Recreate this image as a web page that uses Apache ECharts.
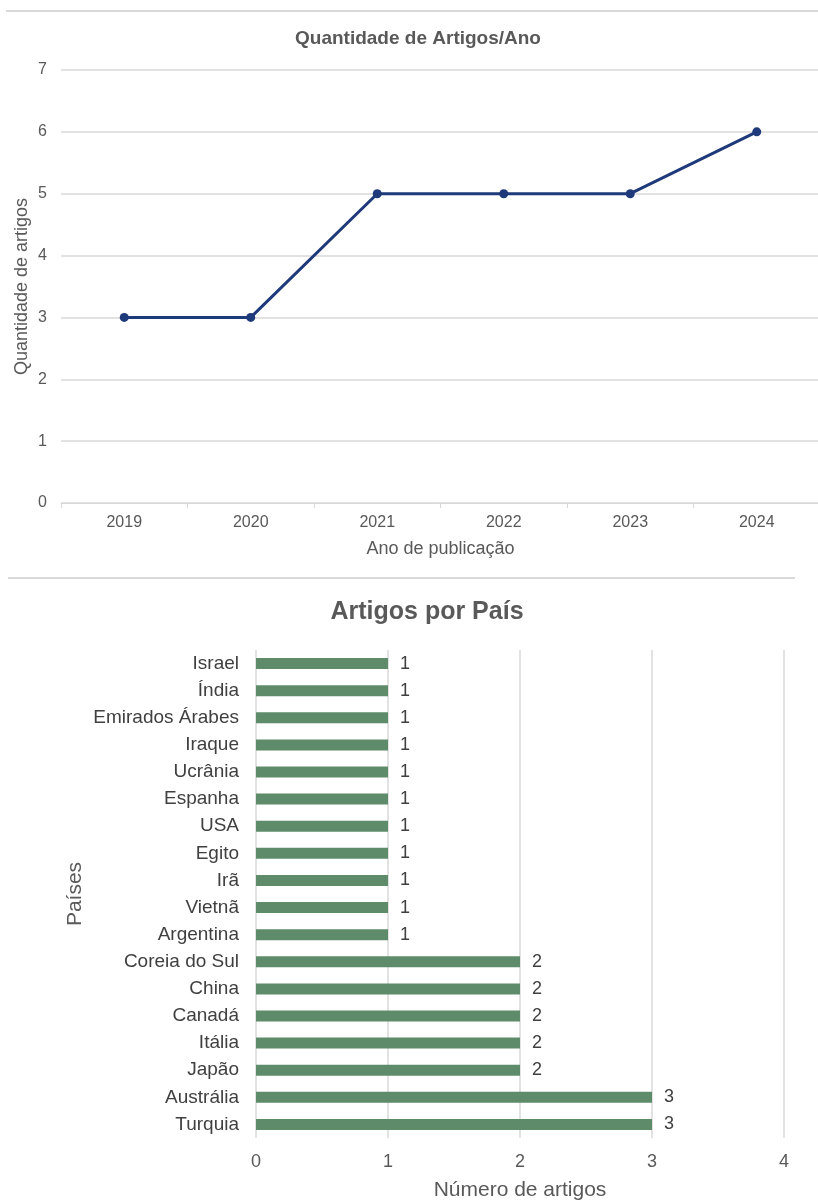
<!DOCTYPE html>
<html><head><meta charset="utf-8">
<script src="https://cdn.jsdelivr.net/npm/echarts@6/dist/echarts.min.js"></script>
<style>html,body{margin:0;padding:0;background:#fff}#c{width:818px;height:1200px}</style>
</head><body><div id="c"></div>
<script>
const years = ['2019','2020','2021','2022','2023','2024'];
const articlesPerYear = [3,3,5,5,5,6];
const countries = ['Israel','Índia','Emirados Árabes','Iraque','Ucrânia','Espanha','USA','Egito','Irã','Vietnã','Argentina','Coreia do Sul','China','Canadá','Itália','Japão','Austrália','Turquia'];
const articlesPerCountry = [1,1,1,1,1,1,1,1,1,1,1,2,2,2,2,2,3,3];

const F = 'Liberation Sans, Arial, sans-serif';
const chart = echarts.init(document.getElementById('c'));
chart.setOption({
  animation:false,
  textStyle:{fontFamily:F},
  title:[
    {text:'Quantidade de Artigos/Ano',left:413,textAlign:'center',top:24,textStyle:{fontFamily:F,fontSize:19,fontWeight:'bold',color:'#595959'}},
    {text:'Artigos por País',left:422,textAlign:'center',top:595,textStyle:{fontFamily:F,fontSize:25,fontWeight:'bold',color:'#595959'}}
  ],
  graphic:[
    {type:'line',shape:{x1:6,y1:11,x2:818,y2:11},style:{stroke:'#d9d9d9',lineWidth:2}},
    {type:'line',shape:{x1:8,y1:578,x2:795,y2:578},style:{stroke:'#d9d9d9',lineWidth:2}}
  ],
  grid:[
    {left:61,top:70,width:759,height:433,outerBoundsMode:'none',containLabel:false},
    {left:256,top:650,width:528,height:488,outerBoundsMode:'none',containLabel:false}
  ],
  xAxis:[
    {type:'category',gridIndex:0,data:years,boundaryGap:true,
     axisLine:{lineStyle:{color:'#d9d9d9'}},axisTick:{show:true,length:5,lineStyle:{color:'#d9d9d9'}},
     axisLabel:{color:'#595959',fontSize:16,margin:12},
     name:'Ano de publicação',nameLocation:'middle',nameGap:37,nameMoveOverlap:false,nameTextStyle:{color:'#595959',fontSize:18}},
    {type:'value',gridIndex:1,min:0,max:4,interval:1,
     axisLine:{show:false},axisTick:{show:false},
     splitLine:{lineStyle:{color:'#d9d9d9',width:1.5}},
     axisLabel:{color:'#595959',fontSize:18,margin:15},
     name:'Número de artigos',nameLocation:'middle',nameGap:42,nameMoveOverlap:false,nameTextStyle:{color:'#595959',fontSize:21}}
  ],
  yAxis:[
    {type:'value',gridIndex:0,min:0,max:7,interval:1,
     axisLine:{show:false},axisTick:{show:false},
     splitLine:{lineStyle:{color:'#d9d9d9',width:1.5}},
     axisLabel:{color:'#595959',fontSize:16,margin:14},
     name:'Quantidade de artigos',nameLocation:'middle',nameGap:30,nameMoveOverlap:false,nameTextStyle:{color:'#595959',fontSize:18}},
    {type:'category',gridIndex:1,data:countries,inverse:true,
     axisLine:{show:false},axisTick:{show:false},
     axisLabel:{color:'#404040',fontSize:19,margin:17},
     name:'Países',nameLocation:'middle',nameGap:170,nameMoveOverlap:false,nameTextStyle:{color:'#595959',fontSize:21}}
  ],
  series:[
    {type:'line',xAxisIndex:0,yAxisIndex:0,data:articlesPerYear,
     lineStyle:{color:'#1F3A7A',width:3},itemStyle:{color:'#1F3A7A'},
     symbol:'circle',symbolSize:9},
    {type:'bar',xAxisIndex:1,yAxisIndex:1,data:articlesPerCountry,barWidth:11,
     itemStyle:{color:'#5E8B69'},
     label:{show:true,position:'right',distance:12,color:'#404040',fontSize:18}}
  ]
});
</script></body></html>
